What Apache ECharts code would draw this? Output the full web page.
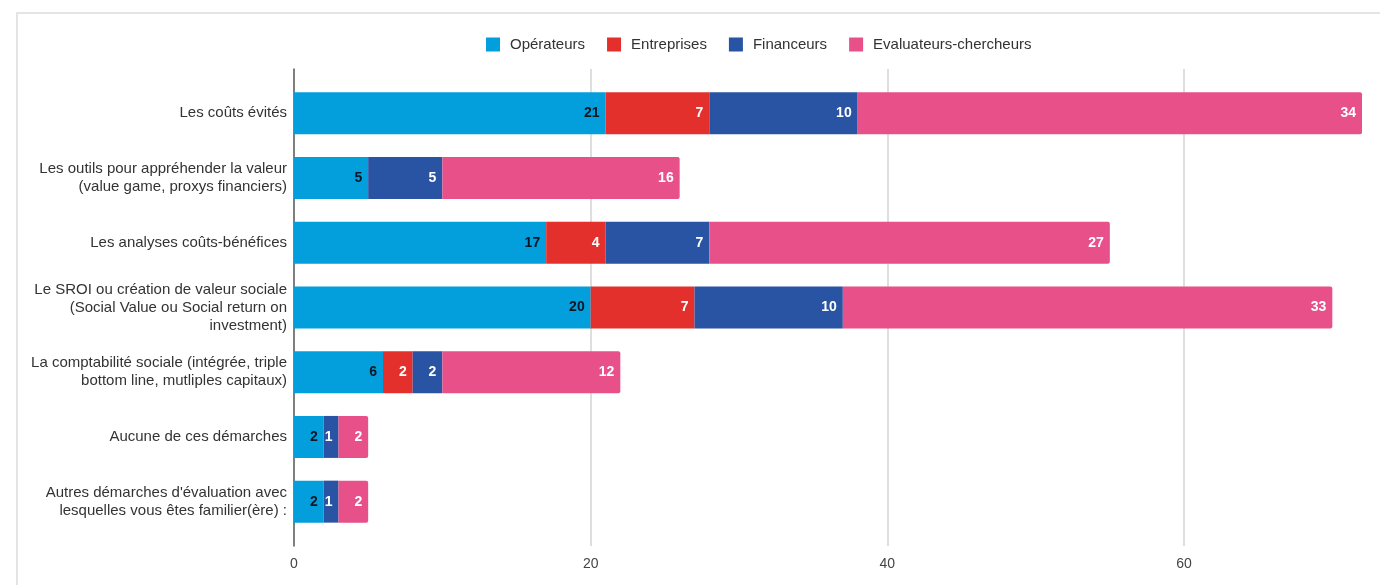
<!DOCTYPE html>
<html>
<head>
<meta charset="utf-8">
<script src="https://cdn.jsdelivr.net/npm/echarts@6/dist/echarts.min.js"></script>
<style>
html,body{margin:0;padding:0;background:#fff;}
#chart{width:1380px;height:585px;}
</style>
</head>
<body>
<div id="chart"></div>
<script>
const categories = [
  "Les coûts évités",
  "Les outils pour appréhender la valeur\n(value game, proxys financiers)",
  "Les analyses coûts-bénéfices",
  "Le SROI ou création de valeur sociale\n(Social Value ou Social return on\ninvestment)",
  "La comptabilité sociale (intégrée, triple\nbottom line, mutliples capitaux)",
  "Aucune de ces démarches",
  "Autres démarches d'évaluation avec\nlesquelles vous êtes familier(ère) :"
];
const seriesNames = ["Opérateurs", "Entreprises", "Financeurs", "Evaluateurs-chercheurs"];
const operateurs  = [21, 5, 17, 20, 6, 2, 2];
const entreprises = [7, 0, 4, 7, 2, 0, 0];
const financeurs  = [10, 5, 7, 10, 2, 1, 1];
const evaluateurs = [34, 16, 27, 33, 12, 2, 2];
const xMax = 72;
const xInterval = 20;

const colors = ["#039fdc", "#e3302c", "#2953a3", "#e8508a"];
const labelColors = ["#0d1726", "#ffffff", "#ffffff", "#ffffff"];
const font = "'Liberation Sans', Arial, sans-serif";
const values = [operateurs, entreprises, financeurs, evaluateurs];

const chart = echarts.init(document.getElementById('chart'));
const series = seriesNames.map((name, i) => ({
  name: name,
  type: 'bar',
  stack: 'total',
  xAxisIndex: 1,
  yAxisIndex: 1,
  barWidth: 42,
  data: values[i],
  itemStyle: { color: colors[i], borderRadius: i === 3 ? [0, 2, 2, 0] : 0 },
  label: {
    show: true,
    position: 'insideRight',
    distance: 6,
    color: labelColors[i],
    fontFamily: font,
    fontWeight: 'bold',
    fontSize: 14,
    formatter: p => (p.value ? String(p.value) : '')
  },
  emphasis: { disabled: true }
}));

chart.setOption({
  animation: false,
  textStyle: { fontFamily: font },
  graphic: [{
    type: 'rect',
    shape: { x: 17, y: 13, width: 1400, height: 600 },
    style: { fill: 'none', stroke: '#e4e4e4', lineWidth: 2 },
    silent: true
  }],
  legend: {
    data: seriesNames,
    left: 481,
    top: 32,
    itemWidth: 14,
    itemHeight: 14,
    itemGap: 22,
    icon: 'rect',
    textStyle: { fontSize: 15, color: '#333', fontFamily: font, padding: [0, 0, 0, 5] }
  },
  grid: [
    { left: 294, right: 18, top: 69, bottom: 39 },
    { left: 294, right: 18, top: 81, bottom: 51 }
  ],
  xAxis: [
    {
      type: 'value', gridIndex: 0, min: 0, max: xMax, interval: xInterval,
      axisLine: { show: false }, axisTick: { show: false },
      axisLabel: { show: true, fontSize: 14, color: '#444', margin: 11, showMaxLabel: false, fontFamily: font },
      splitLine: { show: true, showMinLine: false, showMaxLine: false, lineStyle: { color: '#dedede', width: 2 } }
    },
    {
      type: 'value', gridIndex: 1, min: 0, max: xMax, interval: xInterval, show: false,
      splitLine: { show: false }
    }
  ],
  yAxis: [
    {
      type: 'category', gridIndex: 0, data: categories, inverse: true,
      axisLine: { show: true, lineStyle: { color: '#555', width: 1.5 } },
      axisTick: { show: false }, axisLabel: { show: false }, splitLine: { show: false }
    },
    {
      type: 'category', gridIndex: 1, data: categories, inverse: true,
      axisLine: { show: false }, axisTick: { show: false },
      axisLabel: { show: true, fontSize: 15, color: '#333', margin: 7, lineHeight: 18, align: 'right', fontFamily: font }
    }
  ],
  series: series
});
</script>
</body>
</html>
